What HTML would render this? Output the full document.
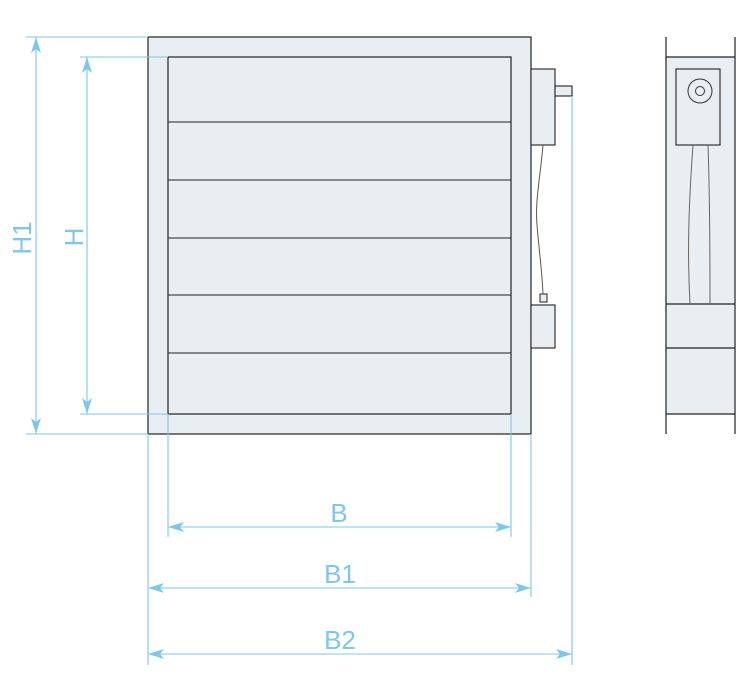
<!DOCTYPE html>
<html><head><style>body{margin:0;background:#fff}svg{display:block}</style></head><body>
<svg width="747" height="681" viewBox="0 0 747 681" xmlns="http://www.w3.org/2000/svg">
<defs>
<marker id="a" viewBox="0 0 16 10" refX="16" refY="5" markerWidth="16" markerHeight="10" markerUnits="userSpaceOnUse" orient="auto-start-reverse">
<path d="M0,0 L16,5 L0,10 L4,5 Z" fill="#7fc6ea"/>
</marker>
</defs>
<!-- front -->
<rect x="148" y="37" width="383" height="397" fill="#e9eef2" stroke="#222" stroke-width="1.2"/>
<rect x="168" y="57" width="343" height="357" fill="#e9eef2" stroke="#222" stroke-width="1.2"/>
<g stroke="#222" stroke-width="1.1">
<line x1="168" y1="122" x2="511" y2="122"/><line x1="168" y1="180" x2="511" y2="180"/>
<line x1="168" y1="238" x2="511" y2="238"/><line x1="168" y1="295" x2="511" y2="295"/>
<line x1="168" y1="353" x2="511" y2="353"/>
</g>
<rect x="531" y="69" width="24" height="76" fill="#e9eef2" stroke="#222" stroke-width="1.1"/>
<rect x="555" y="86" width="17" height="10" fill="#e9eef2" stroke="#222" stroke-width="1.1"/>
<rect x="531" y="305" width="24" height="43" fill="#e9eef2" stroke="#222" stroke-width="1.1"/>
<rect x="540" y="294" width="7" height="8" fill="#e9eef2" stroke="#222" stroke-width="1"/>
<path d="M543,145 C540,180 535,200 537,225 C539,250 542,270 543,294" fill="none" stroke="#555" stroke-width="1"/>
<!-- side -->
<rect x="666" y="57" width="69" height="357" fill="#e9eef2"/>
<g stroke="#222" stroke-width="1.2">
<line x1="666" y1="37" x2="666" y2="434"/><line x1="735" y1="37" x2="735" y2="434"/>
<line x1="666" y1="57" x2="735" y2="57"/><line x1="666" y1="414" x2="735" y2="414"/>
<line x1="666" y1="304" x2="735" y2="304"/><line x1="666" y1="348" x2="735" y2="348"/>
</g>
<rect x="676" y="69" width="44" height="76" fill="#e9eef2" stroke="#222" stroke-width="1.1"/>
<circle cx="700" cy="91" r="12" fill="none" stroke="#333" stroke-width="1"/>
<circle cx="700" cy="91" r="4.5" fill="none" stroke="#333" stroke-width="1"/>
<path d="M693,145 C689,200 687,250 690,303" fill="none" stroke="#666" stroke-width="1"/>
<path d="M708,145 C710,200 710,250 710,303" fill="none" stroke="#666" stroke-width="1"/>
<!-- dims -->
<g stroke="#7fc6ea" stroke-width="1.1" fill="none">
<line x1="26" y1="37" x2="148" y2="37"/><line x1="26" y1="434" x2="148" y2="434"/>
<line x1="80" y1="57" x2="168" y2="57"/><line x1="80" y1="414" x2="168" y2="414"/>
<line x1="36" y1="37" x2="36" y2="434" marker-start="url(#a)" marker-end="url(#a)"/>
<line x1="87" y1="57" x2="87" y2="414" marker-start="url(#a)" marker-end="url(#a)"/>
<line x1="168" y1="414" x2="168" y2="537"/><line x1="511" y1="414" x2="511" y2="537"/>
<line x1="148" y1="434" x2="148" y2="665"/><line x1="531" y1="434" x2="531" y2="597"/>
<line x1="572" y1="96" x2="572" y2="665"/>
<line x1="168" y1="527" x2="511" y2="527" marker-start="url(#a)" marker-end="url(#a)"/>
<line x1="148" y1="588" x2="531" y2="588" marker-start="url(#a)" marker-end="url(#a)"/>
<line x1="148" y1="654" x2="572" y2="654" marker-start="url(#a)" marker-end="url(#a)"/>
</g>
<g fill="#7fc6ea" font-family="Liberation Sans, sans-serif" font-size="26" text-anchor="middle">
<text x="339" y="522">B</text>
<text x="340" y="583">B1</text>
<text x="340" y="649">B2</text>
<text transform="translate(31,238) rotate(-90)">H1</text>
<text transform="translate(83,237) rotate(-90)">H</text>
</g>
</svg>
</body></html>
